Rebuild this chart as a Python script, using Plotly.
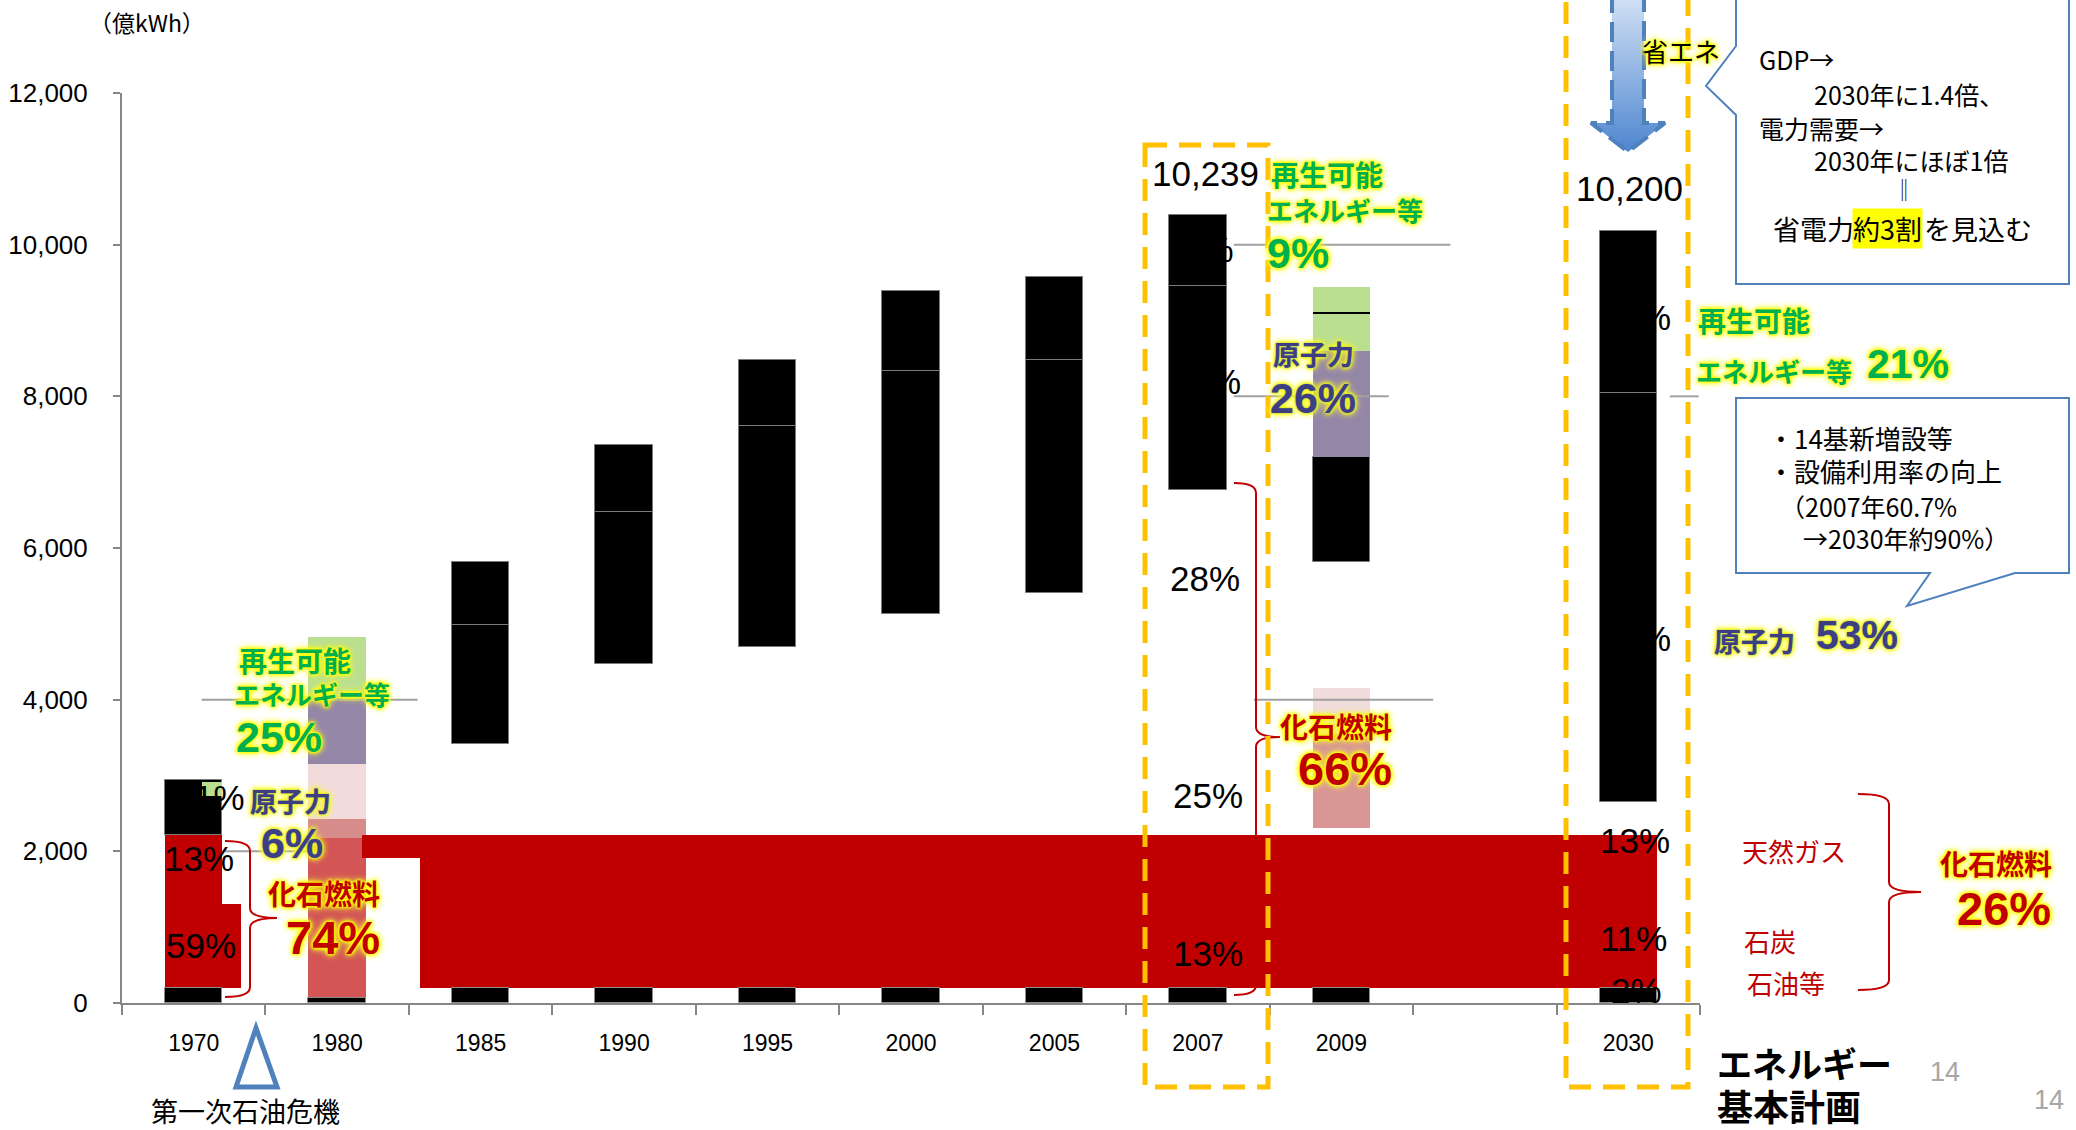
import plotly.graph_objects as go

W, H = 2076, 1130

# ---------------- data (億kWh) ----------------
years = ["1970", "1980", "1985", "1990", "1995", "2000", "2005", "2007", "2009", "", "2030"]
bottom_black_top = [200, 60, 200, 200, 200, 200, 200, 200, 200, None, 200]
upper_black_low = [2210, None, 3420, 4470, 4690, 5135, 5410, 6765, 5810, None, 2650]
upper_black_split = [None, None, 4990, 6470, 7615, 8340, 8485, 9455, None, None, 8042]
upper_black_high = [2940, None, 5820, 7355, 8475, 9385, 9573, 10390, 7203, None, 10180]

stack1980_bounds = [60, 2170, 2420, 3150, 3985, 4826]
stack1980_colors = ["#D35555", "#D58C8B", "#F2DCDB", "#9486A7", "#BADF90"]

stack2009_low = [2307, 3550, 7203, 8596]
stack2009_high = [3550, 4153, 8596, 9444]
stack2009_colors = ["#D99694", "#F0DCDB", "#9486A7", "#BADF90"]
renew_line_2009 = 9101

red1970_low, red1970_high = 200, 2210
red1970_ext_high = 1310
green1970_low, green1970_high = 2730, 2915
fossil_band_low, fossil_band_high = 200, 2210
fossil_strip_low = 1915

totals = {"2007": 10239, "2030": 10200}
yticks = [0, 2000, 4000, 6000, 8000, 10000, 12000]

# remnants of gridlines: (value, from category pos, to category pos)
grid_bits = [(4000, 0.055, 1.56), (2000, 0.2, 0.8), (10000, 7.25, 8.76),
             (8000, 7.25, 8.33), (8000, 10.29, 10.49), (4000, 7.39, 8.64)]

# ---------------- figure ----------------
fig = go.Figure()
BW = 0.4


def bars(xs, lows, highs, color, widths=None, lc="rgba(0,0,0,0)", lw=0):
    fig.add_trace(go.Bar(
        x=xs, base=lows, y=[h - l for l, h in zip(lows, highs)],
        width=widths or [BW] * len(xs),
        marker=dict(color=color, line=dict(color=lc, width=lw)),
        hoverinfo="skip", showlegend=False))


# 1970 fossil block (+ its shifted lower part)
bars([0], [red1970_low], [red1970_high], "#C00000")
bars([0.265], [red1970_low], [red1970_ext_high], "#C00000", widths=[0.13])

# 1980 coloured stack
i1980 = years.index("1980")
for k, col in enumerate(stack1980_colors):
    bars([i1980], [stack1980_bounds[k]], [stack1980_bounds[k + 1]], col)

# big fossil band spanning the later years
bars([1.375], [fossil_strip_low], [fossil_band_high], "#C00000", widths=[0.41])
bars([(1.58 + 10.2) / 2], [fossil_band_low], [fossil_band_high], "#C00000", widths=[10.2 - 1.58])

# black bottoms
bx = [i for i, v in enumerate(bottom_black_top) if v]
bars(bx, [0] * len(bx), [bottom_black_top[i] for i in bx], "#000000", lc="#8C8C8C", lw=1)

# black upper blocks
ux, ul, uh = [], [], []
for i, lo in enumerate(upper_black_low):
    if lo is None:
        continue
    sp = upper_black_split[i]
    if sp is None:
        ux.append(i); ul.append(lo); uh.append(upper_black_high[i])
    else:
        ux += [i, i]; ul += [lo, sp]; uh += [sp, upper_black_high[i]]
bars(ux, ul, uh, "#000000", lc="#7A7A7A", lw=1)

# small renewable patch on 1970
bars([0.128], [green1970_low], [green1970_high], "#BADF90", widths=[0.144])

# 2009 coloured pieces
i2009 = years.index("2009")
for lo, hi, col in zip(stack2009_low, stack2009_high, stack2009_colors):
    bars([i2009], [lo], [hi], col)
bars([i2009], [renew_line_2009 - 13], [renew_line_2009 + 13], "#000000")

# 省エネ arrow (pixel overlay axes)
ax = [1612, 1644, 1644, 1665, 1628, 1591, 1612, 1612]
ay = [-5, -5, 123, 123, 152, 123, 123, -5]
fig.add_trace(go.Scatter(
    x=ax, y=ay, xaxis="x2", yaxis="y2", mode="lines", fill="toself",
    fillgradient=dict(type="vertical", colorscale=[[0, "#4F86CF"], [1, "#D3E2F6"]]),
    line=dict(color="#4F81BD", width=4, dash="20px,9px"),
    hoverinfo="skip", showlegend=False))

shapes = []
for v, x0, x1 in grid_bits:
    shapes.append(dict(type="line", xref="x", yref="y", x0=x0, x1=x1, y0=v, y1=v,
                       line=dict(color="#A0A0A0", width=2), layer="above"))


def brace(xl, xm, xt, yt, ym, yb, r=10):
    return (f"M {xl} {yt} Q {xm} {yt} {xm} {yt + r} L {xm} {ym - r} "
            f"Q {xm} {ym} {xt} {ym} Q {xm} {ym} {xm} {ym + r} L {xm} {yb - r} "
            f"Q {xm} {yb} {xl} {yb}")


for pth in [brace(225, 250, 277, 841, 918, 997),
            brace(1234, 1256, 1280, 483, 737, 995),
            brace(1858, 1889, 1921, 794, 892, 990)]:
    shapes.append(dict(type="path", xref="x2", yref="y2", path=pth,
                       line=dict(color="#C00000", width=2), layer="above"))

# oil-crisis triangle
shapes.append(dict(type="path", xref="x2", yref="y2", path="M 256 1028 L 277 1087 L 236 1087 Z",
                   line=dict(color="#4F81BD", width=5), layer="above"))

# dashed orange frames
for x0, x1, y0, y1 in [(1145, 1268, 145, 1087), (1566, 1688, -20, 1087)]:
    shapes.append(dict(type="rect", xref="x2", yref="y2", x0=x0, x1=x1, y0=y0, y1=y1,
                       line=dict(color="#FFC000", width=5, dash="22px,12px"), layer="above"))

# callout boxes
shapes.append(dict(type="path", xref="x2", yref="y2",
                   path="M 1736 -10 L 2069 -10 L 2069 284 L 1736 284 L 1736 115 L 1706 86 L 1736 46 Z",
                   fillcolor="white", line=dict(color="#4F81BD", width=2), layer="above"))
shapes.append(dict(type="path", xref="x2", yref="y2",
                   path="M 1736 398 L 2069 398 L 2069 573 L 2015 573 L 1907 606 L 1930 573 L 1736 573 Z",
                   fillcolor="white", line=dict(color="#4F81BD", width=2), layer="above"))

JP = "Noto Sans CJK JP"
NUM = "Liberation Sans"
GLOW = "0px 0px 3px #FFFF00, 0px 0px 3px #FFFF00, 0px 0px 4px #FFFF00, 0px 0px 6px #FFFF00, 0px 0px 8px #FFFF60"
GLOW_N = "0px 0px 1.5px #6F8FD6, " + GLOW
GREEN, NAVY, RED = "#00B050", "#3D3F82", "#C00000"

anns = []


def ann(text, x, y, size, color="black", family=JP, bold=False, shadow=None,
        xanchor="center", bg=None):
    f = dict(family=family, size=size, color=color)
    if bold:
        f["weight"] = "bold"
    if shadow:
        f["shadow"] = shadow
    d = dict(text=text, x=x, y=y, xref="x2", yref="y2", showarrow=False,
             xanchor=xanchor, yanchor="middle", font=f)
    if bg:
        d["bgcolor"] = bg
        d["borderpad"] = 0
    anns.append(d)


ann("（億kWh）", 147, 22, 23)
ann("第一次石油危機", 245, 1110, 27)

# black in-bar percentages
for t, x, y in [("1%", 219, 797), ("13%", 199, 858), ("59%", 201, 945),
                ("9%", 1208, 249), ("26%", 1206, 381), ("28%", 1205, 578),
                ("25%", 1208, 795), ("13%", 1208, 953),
                ("21%", 1636, 317), ("53%", 1636, 638), ("13%", 1635, 840),
                ("11%", 1633, 938), ("2%", 1636, 990)]:
    ann(t, x, y, 35, family=NUM)

ann(f"{totals['2007']:,}", 1205, 173, 35, family=NUM)
ann(f"{totals['2030']:,}", 1629, 188, 35, family=NUM)

# glowing category call-outs
for t, x, y, s, c in [
    ("再生可能", 295, 660, 28, GREEN), ("エネルギー等", 312, 693, 26, GREEN),
    ("原子力", 290, 800, 27, NAVY), ("化石燃料", 324, 893, 28, RED),
    ("再生可能", 1327, 174, 28, GREEN), ("エネルギー等", 1345, 209, 26, GREEN),
    ("原子力", 1313, 353, 27, NAVY), ("化石燃料", 1336, 726, 28, RED),
    ("再生可能", 1754, 320, 28, GREEN), ("エネルギー等", 1774, 370, 26, GREEN),
    ("原子力", 1754, 640, 27, NAVY), ("化石燃料", 1996, 863, 28, RED)]:
    ann(t, x, y, s, c, JP, True, GLOW_N if c == NAVY else GLOW)

for t, x, y, s, c in [
    ("25%", 279, 737, 43, GREEN), ("6%", 292, 843, 43, NAVY), ("74%", 333, 937, 47, RED),
    ("9%", 1298, 253, 43, GREEN), ("26%", 1313, 398, 43, NAVY), ("66%", 1345, 768, 47, RED),
    ("21%", 1908, 364, 41, GREEN), ("53%", 1857, 635, 41, NAVY), ("26%", 2004, 908, 47, RED)]:
    ann(t, x, y, s, c, NUM, True, GLOW_N if c == NAVY else GLOW)

ann("省エネ", 1681, 50, 26, shadow=GLOW)

# fossil breakdown 2030
for t, x, y in [("天然ガス", 1794, 850), ("石炭", 1770, 940), ("石油等", 1786, 982)]:
    ann(t, x, y, 26, RED)

# callout 1
ann("GDP→", 1757, 59, 25, xanchor="left")
ann("2030年に1.4倍、", 1812, 94, 25, xanchor="left")
ann("電力需要→", 1757, 128, 25, xanchor="left")
ann("2030年にほぼ1倍", 1812, 160, 25, xanchor="left")
ann("‖", 1904, 188, 22)
ann("省電力", 1771, 228, 27, xanchor="left")
ann("約3割", 1852, 228, 27, xanchor="left", bg="#FFFF00")
ann("を見込む", 1922, 228, 27, xanchor="left")

# callout 2
ann("・14基新増設等", 1766, 437, 26, xanchor="left")
ann("・設備利用率の向上", 1766, 470, 26, xanchor="left")
ann("（2007年60.7%", 1778, 506, 25, xanchor="left")
ann("→2030年約90%）", 1801, 538, 25, xanchor="left")

ann("エネルギー", 1715, 1062, 35, bold=True, xanchor="left")
ann("基本計画", 1715, 1105, 36, bold=True, xanchor="left")
ann("14", 1945, 1072, 27, "#A6A6A6", NUM)
ann("14", 2049, 1100, 27, "#A6A6A6", NUM)

fig.update_layout(
    width=W, height=H, margin=dict(l=0, r=0, t=0, b=0),
    paper_bgcolor="white", plot_bgcolor="rgba(0,0,0,0)",
    barmode="overlay", bargap=0, showlegend=False,
    shapes=shapes, annotations=anns,
    xaxis=dict(domain=[122 / W, 1700 / W], range=[-0.5, 10.5], tickmode="array",
               tickvals=list(range(len(years))), ticktext=years,
               ticks="outside", ticklen=10, tickcolor="rgba(0,0,0,0)",
               ticklabelstandoff=8,
               showline=True, linecolor="#868686", linewidth=2,
               showgrid=False, zeroline=False, fixedrange=True, automargin=False,
               tickfont=dict(family=NUM, size=23, color="black"),
               minor=dict(tickmode="array", tickvals=[i - 0.5 for i in range(len(years) + 1)],
                          ticks="outside", ticklen=10, tickcolor="#868686", tickwidth=2,
                          showgrid=False)),
    yaxis=dict(domain=[1 - 1003 / H, 1 - 93 / H], range=[0, 12000], tickmode="array",
               tickvals=yticks, ticktext=[f"{v:,}" for v in yticks],
               ticks="outside", ticklen=7, tickcolor="#868686", tickwidth=2,
               ticklabelstandoff=20,
               showline=True, linecolor="#868686", linewidth=2,
               showgrid=False, zeroline=False, fixedrange=True, automargin=False,
               tickfont=dict(family=NUM, size=26, color="black")),
    xaxis2=dict(domain=[0, 1], range=[0, W], visible=False, anchor="y2", fixedrange=True),
    yaxis2=dict(domain=[0, 1], range=[H, 0], visible=False, anchor="x2", fixedrange=True),
)

fig.write_html("out.html", config={"displayModeBar": False},
               post_script="document.body.style.margin='0px';document.body.style.overflow='hidden';")
